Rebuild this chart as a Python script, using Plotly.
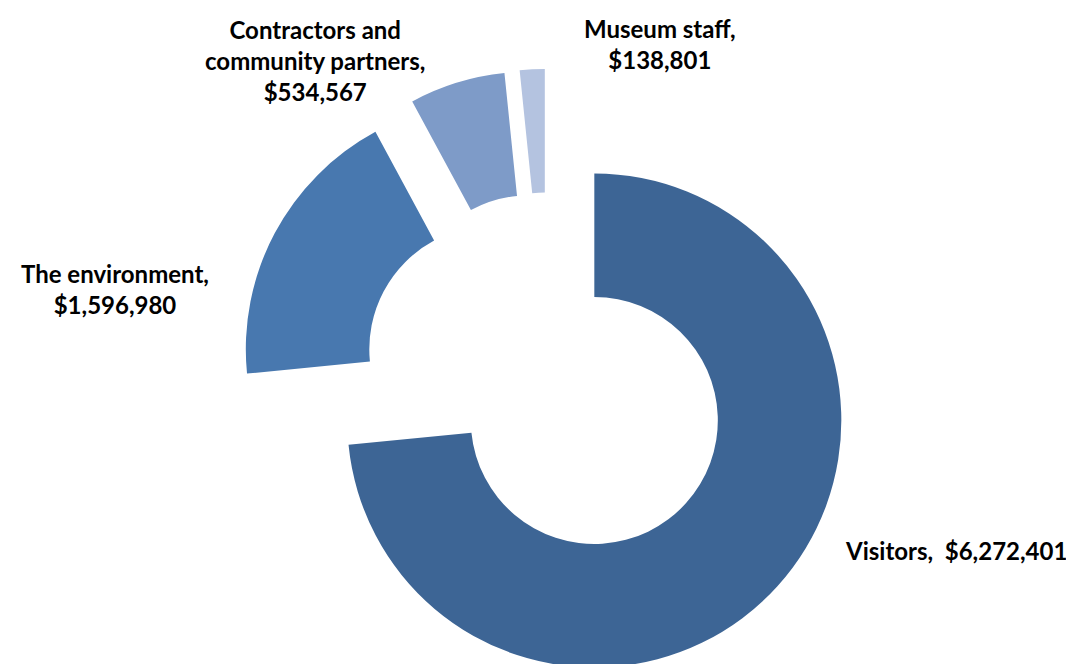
import plotly.graph_objects as go

# values
categories = ["Visitors", "The environment", "Contractors and community partners", "Museum staff"]
amounts = [6272401, 1596980, 534567, 138801]
slice_colors = ["#3D6595", "#4878AF", "#7E9BC8", "#B4C3E0"]

# label text as shown next to each slice
label_lines = [
    ["Visitors,  ${:,}"],
    ["The environment,", "${:,}"],
    ["Contractors and", "community partners,", "${:,}"],
    ["Museum staff,", "${:,}"],
]
# label anchor in pixels (x from left, y from top), page has an 8px body margin
OFF = 8
label_pos = [(956, 550), (115, 289), (315, 60), (660, 44)]

W, H = 1074, 690
cx, cy, half = 548 - OFF, 378.5 - OFF, 309.5

fig = go.Figure(go.Pie(
    labels=categories,
    values=amounts,
    sort=False,
    direction="clockwise",
    rotation=0,
    hole=0.5,
    pull=[0.253] * len(amounts),
    marker=dict(colors=slice_colors, line=dict(width=0)),
    textinfo="none",
    hoverinfo="label+value+percent",
    showlegend=False,
    domain=dict(x=[(cx - half) / W, (cx + half) / W],
                y=[(H - cy - half) / H, (H - cy + half) / H]),
))

for lines, amt, (px, py) in zip(label_lines, amounts, label_pos):
    text = "<br>".join(l.format(amt) if "{" in l else l for l in lines)
    fig.add_annotation(
        x=(px - OFF) / W, y=1 - (py - OFF) / H, xref="paper", yref="paper",
        text=text, showarrow=False, align="center",
        xanchor="center", yanchor="middle",
        font=dict(family="Lato", size=24, color="black", weight="bold"),
    )

fig.update_layout(
    width=W, height=H,
    margin=dict(l=0, r=0, t=0, b=0),
    paper_bgcolor="white",
    plot_bgcolor="white",
)

fig.write_html("out.html")
